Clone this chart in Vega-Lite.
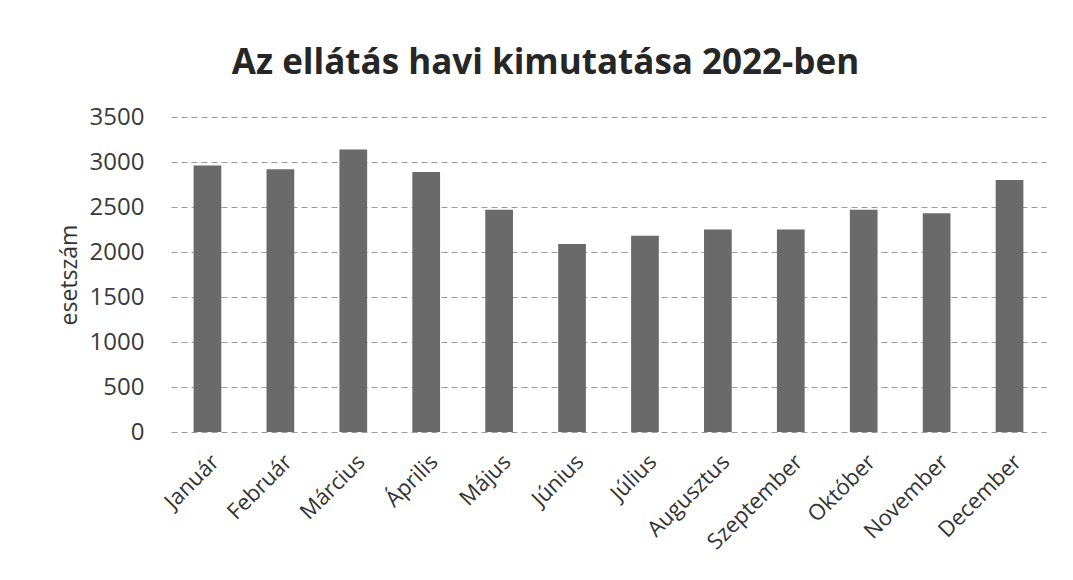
{
  "$schema": "https://vega.github.io/schema/vega-lite/v6.json",
  "width": 875,
  "height": 315,
  "autosize": {"type": "none"},
  "padding": {"left": 171, "top": 117, "right": 27, "bottom": 148},
  "background": "white",
  "title": {
    "text": "Az ellátás havi kimutatása 2022-ben",
    "font": "Open Sans",
    "fontSize": 35,
    "fontWeight": "bold",
    "color": "#262626",
    "anchor": "middle",
    "dx": -63,
    "offset": 24
  },
  "data": {
    "values": [
      {"honap": "Január", "esetszam": 2960},
      {"honap": "Február", "esetszam": 2920},
      {"honap": "Március", "esetszam": 3140},
      {"honap": "Április", "esetszam": 2890},
      {"honap": "Május", "esetszam": 2470},
      {"honap": "Június", "esetszam": 2090},
      {"honap": "Július", "esetszam": 2180},
      {"honap": "Augusztus", "esetszam": 2250},
      {"honap": "Szeptember", "esetszam": 2250},
      {"honap": "Október", "esetszam": 2470},
      {"honap": "November", "esetszam": 2430},
      {"honap": "December", "esetszam": 2800}
    ]
  },
  "mark": {"type": "bar", "color": "#6a6a6a"},
  "encoding": {
    "x": {
      "field": "honap",
      "type": "nominal",
      "sort": null,
      "scale": {"paddingInner": 0.62, "paddingOuter": 0.31},
      "axis": {
        "title": null,
        "labelAngle": -45,
        "labelAlign": "right",
        "labelBaseline": "middle",
        "labelFont": "Open Sans",
        "labelFontSize": 22,
        "labelColor": "#333333",
        "labelPadding": 26,
        "labelOffset": 8,
        "ticks": false,
        "domain": false
      }
    },
    "y": {
      "field": "esetszam",
      "type": "quantitative",
      "scale": {"domain": [0, 3500]},
      "axis": {
        "title": "esetszám",
        "titleFont": "Open Sans",
        "titleFontSize": 23,
        "titleFontWeight": "normal",
        "titleColor": "#333333",
        "titlePadding": 8,
        "values": [0, 500, 1000, 1500, 2000, 2500, 3000, 3500],
        "format": "d",
        "labelFont": "Open Sans",
        "labelFontSize": 24,
        "labelColor": "#3a3a3a",
        "labelPadding": 27,
        "ticks": false,
        "domain": false,
        "grid": true,
        "gridColor": "#9a9a9a",
        "gridDash": [6, 4],
        "gridWidth": 1
      }
    }
  },
  "config": {"view": {"stroke": null}}
}
